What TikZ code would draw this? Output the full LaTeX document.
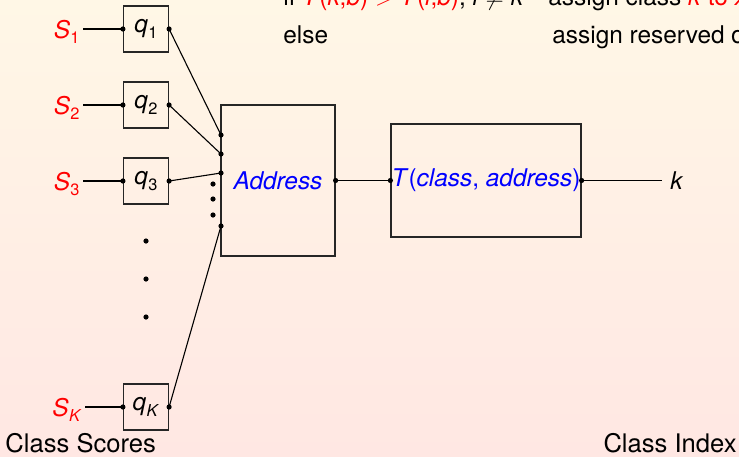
\documentclass[tikz,border=0pt]{standalone}
\usepackage{fontspec}
\setmainfont{TeX Gyre Heros}
\usetikzlibrary{calc}
\definecolor{bgtop}{RGB}{255,247,230}
\definecolor{bgbot}{RGB}{255,231,227}
\definecolor{hired}{RGB}{255,0,0}
\definecolor{hiblue}{RGB}{0,0,255}
% italic symbol with a small subscript
\newcommand{\symsub}[2]{\textit{#1}\kern0.2pt\raisebox{-0.45ex}{\fontsize{8.2}{9}\selectfont #2}}
\begin{document}
\begin{tikzpicture}[x=0.5pt,y=-0.5pt,
  font=\fontsize{12.2}{14}\selectfont,
  qbox/.style={draw=black!85, line width=0.6pt, minimum width=22.5pt, minimum height=23pt, inner sep=0pt},
  bigbox/.style={draw=black!85, line width=0.6pt, inner sep=0pt},
  pin/.style={circle, fill=black, inner sep=0pt, minimum size=2.6pt},
  wire/.style={line width=0.55pt},
  score/.style={text=hired, anchor=east, inner sep=0pt},
  txt/.style={inner sep=0pt, anchor=base west},
  caption/.style={inner sep=0pt, font=\fontsize{12.8}{15}\selectfont}]
\useasboundingbox (0,0) rectangle (739,456);
\clip (0,0) rectangle (739,456);
\shade[top color=bgtop, bottom color=bgbot] (0,0) rectangle (739,456);

% decision rule
\node[txt] (rule1) at (283,5) {if \textcolor{hired}{\textit{T}(\textit{k},\textit{b}) $>$ \textit{T}(\textit{l},\textit{b})}, \textit{l} $\neq$ \textit{k}};
\node[txt] (act1) at (548,5) {assign class \textcolor{hired}{\textit{k} to \textit{x}}};
\node[txt] (rule2) at (283,43) {else};
\node[txt] (act2) at (552,43) {assign reserved decision};

% quantizers
\node[qbox] (q1) at (146,29) {\symsub{q}{1}};
\node[qbox] (q2) at (146,105) {\symsub{q}{2}};
\node[qbox] (q3) at (146,181) {\symsub{q}{3}};
\node[qbox] (qK) at (146,407) {\symsub{q}{\textit{K}}};

% class scores
\node[score] (s1) at (80,32) {\symsub{S}{1}};
\node[score] (s2) at (80,108) {\symsub{S}{2}};
\node[score] (s3) at (80,184) {\symsub{S}{3}};
\node[score] (sK) at (82,410) {\symsub{S}{\textit{K}}};

% vertical ellipsis between quantizers
\foreach \yy [count=\i] in {241,279,317}
  \node[pin] (vd\i) at (146,\yy) {};

% address and table blocks
\node[bigbox, minimum width=57pt, minimum height=75.5pt, text=hiblue] (addr) at (278,180.5) {\textit{Address}};
\node[bigbox, minimum width=95pt, minimum height=56.5pt, text=hiblue] (tab) at (486,180.5) {\textit{T}(\textit{class}, \textit{address})};

% inputs on the address block
\coordinate (a1) at (221,135);
\coordinate (a2) at (221,154);
\coordinate (a3) at (221,173);
\coordinate (aK) at (221,226);
\foreach \yy [count=\i] in {184,199,215}
  \node[pin] (ad\i) at (213,\yy) {};

% score -> quantizer
\foreach \n in {1,2,3,K} {
  \draw[wire] (s\n.east) ++(3,-3) -- (q\n.west);
  \node[pin] at (q\n.west) {};
  \node[pin] at (q\n.east) {};
}

% quantizer -> address
\draw[wire] (q1.east) -- (a1);
\draw[wire] (q2.east) -- (a2);
\draw[wire] (q3.east) -- (a3);
\draw[wire] (qK.east) -- (aK);
\foreach \c in {a1,a2,a3,aK}
  \node[pin] at (\c) {};

% address -> table -> class index
\coordinate (kend) at (662,180.5);
\draw[wire] (addr.east) -- (tab.west);
\draw[wire] (tab.east) -- (kend);
\node[pin] at (addr.east) {};
\node[pin] at (tab.west) {};
\node[pin] at (tab.east) {};
\node[anchor=west, inner sep=0pt] (k) at (670,181) {\textit{k}};

% captions
\node[caption, anchor=base west] (cap1) at (5,452) {Class Scores};
\node[caption, anchor=base east] (cap2) at (737,452) {Class Index};
\end{tikzpicture}
\end{document}
